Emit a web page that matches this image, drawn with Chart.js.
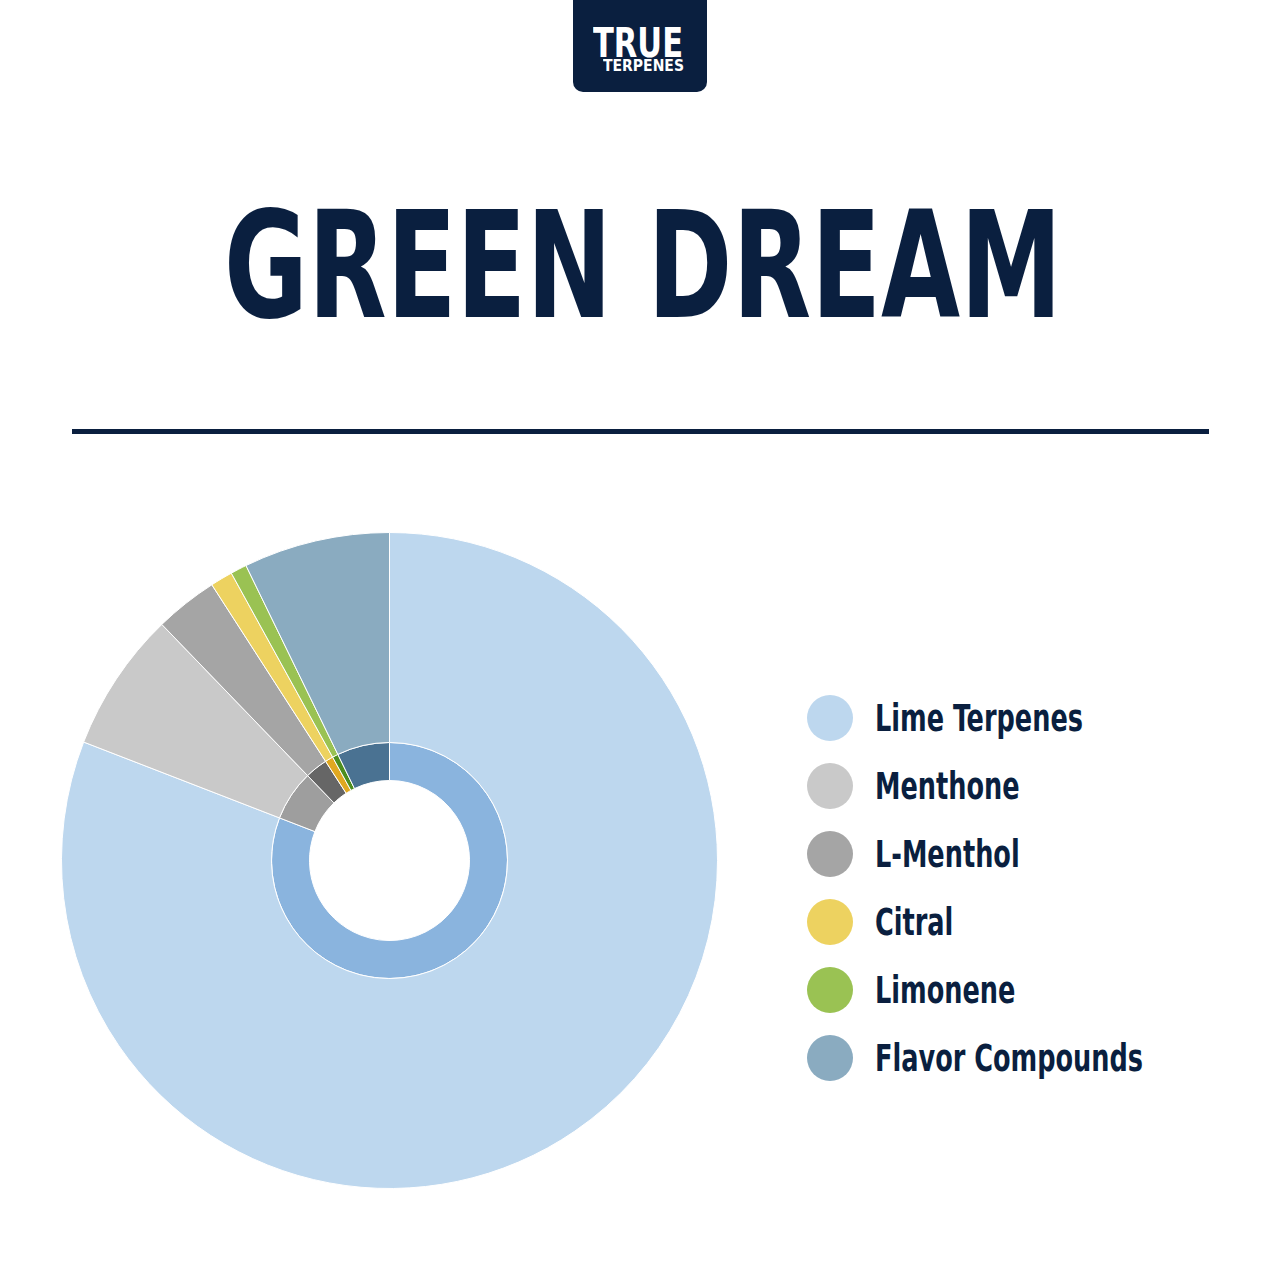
<!DOCTYPE html>
<html>
<head>
<meta charset="utf-8">
<script src="https://cdn.jsdelivr.net/npm/chart.js@4/dist/chart.umd.min.js"></script>
<style>
  html, body { margin: 0; padding: 0; background: #ffffff; }
  body { width: 1280px; height: 1280px; position: relative; overflow: hidden; }
  .navy { color: #0A1F3F; }
  .fit { position: absolute; white-space: nowrap; transform-origin: 0 0; font-family: "Liberation Sans Narrow", "DejaVu Sans Condensed", "Roboto", sans-serif; font-weight: bold; line-height: 1; }
  #logo { position: absolute; left: 573px; top: -12px; width: 134px; height: 104px; background: #0A1F3F; border-radius: 10px; }
  #rule { position: absolute; left: 72px; top: 429px; width: 1137px; height: 5px; background: #0A1F3F; }
  #chartWrap { position: absolute; left: 61px; top: 532px; width: 657px; height: 657px; }
  .dot { position: absolute; width: 46px; height: 46px; border-radius: 50%; }
</style>
</head>
<body>
<div id="logo"></div>
<div class="fit" id="logoTrue" style="color:#fff;">TRUE</div>
<div class="fit" id="logoTerp" style="color:#fff;">TERPENES</div>
<div class="fit navy" id="title">GREEN DREAM</div>
<div id="rule"></div>
<div id="chartWrap"><canvas id="c" width="657" height="657"></canvas></div>
<div id="legend"></div>
<script>
// ---- data ----
const labels = ["Lime Terpenes", "Menthone", "L-Menthol", "Citral", "Limonene", "Flavor Compounds"];
const values = [80.8, 6.9, 3.1, 1.1, 0.8, 7.2];
const outerColors = ["#BDD7EE", "#C9C9C9", "#A5A5A5", "#EDD260", "#9AC253", "#8AABC0"];
const innerColors = ["#8AB4DE", "#9E9E9E", "#666666", "#E0A820", "#4E8E1E", "#4A7292"];
const titleText = "GREEN DREAM";

// ---- text helpers ----
function place(el, left, baseline, fontSize, targetWidth) {
  el.style.fontSize = fontSize + "px";
  el.style.transform = "none";
  const w = el.getBoundingClientRect().width;
  const sx = targetWidth ? targetWidth / w : 1;
  el.style.left = left + "px";
  el.style.top = (baseline - 0.8465 * fontSize) + "px";
  el.style.transform = "scaleX(" + sx + ")";
  return sx;
}

document.getElementById("title").textContent = titleText;
place(document.getElementById("title"), 224, 317, 148, 838);
place(document.getElementById("logoTrue"), 593, 57, 40, 90);
place(document.getElementById("logoTerp"), 603, 72, 15, 81);

// ---- legend ----
const legend = document.getElementById("legend");
let legendScale = null;
labels.forEach((lab, i) => {
  const cy = 717.5 + 68 * i;
  const d = document.createElement("div");
  d.className = "dot";
  d.style.left = (830 - 23) + "px";
  d.style.top = (cy - 23) + "px";
  d.style.background = outerColors[i];
  legend.appendChild(d);
  const t = document.createElement("div");
  t.className = "fit navy";
  t.textContent = lab;
  legend.appendChild(t);
  if (legendScale === null) {
    legendScale = place(t, 875, cy + 14.3, 37, 208);
  } else {
    place(t, 875, cy + 14.3, 37, null);
    t.style.transform = "scaleX(" + legendScale + ")";
  }
});

// ---- chart ----
new Chart(document.getElementById("c"), {
  type: "doughnut",
  data: {
    labels: labels,
    datasets: [
      { data: values, backgroundColor: outerColors, borderColor: "#ffffff", borderWidth: 1, weight: 210 },
      { data: values, backgroundColor: innerColors, borderColor: "#ffffff", borderWidth: 1, weight: 38 }
    ]
  },
  options: {
    responsive: false,
    devicePixelRatio: 1,
    animation: false,
    cutout: 80,
    layout: { padding: 0 },
    plugins: { legend: { display: false }, tooltip: { enabled: false } }
  }
});
</script>
</body>
</html>
